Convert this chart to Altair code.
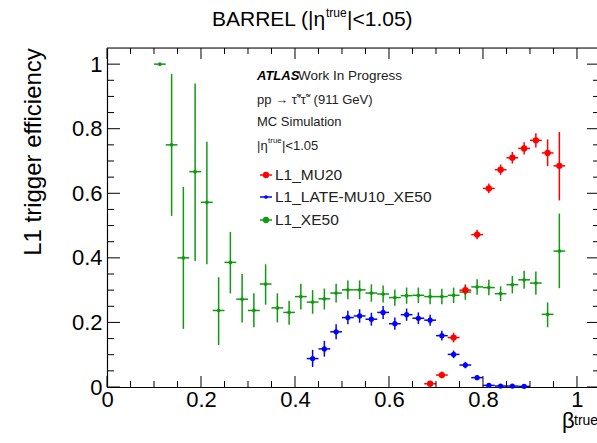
import altair as alt
import pandas as pd

FONT = "Liberation Sans"

# ---------------- data ----------------
series_names = ["L1_MU20", "L1_LATE-MU10_XE50", "L1_XE50"]
series_colors = ["#ff0000", "#0000ff", "#119911"]

green_x = [0.1125, 0.1375, 0.1625, 0.1875, 0.2125, 0.2375, 0.2625, 0.2875, 0.3125,
           0.3375, 0.3625, 0.3875, 0.4125, 0.4375, 0.4625, 0.4875, 0.5125, 0.5375,
           0.5625, 0.5875, 0.6125, 0.6375, 0.6625, 0.6875, 0.7125, 0.7375, 0.7625,
           0.7875, 0.8125, 0.8375, 0.8625, 0.8875, 0.9125, 0.9375, 0.9625]
green_y = [1.0, 0.75, 0.40, 0.667, 0.572, 0.237, 0.386, 0.272, 0.237, 0.319, 0.245,
           0.231, 0.28, 0.263, 0.273, 0.291, 0.301, 0.301, 0.291, 0.288, 0.277, 0.283,
           0.284, 0.28, 0.28, 0.284, 0.294, 0.31, 0.308, 0.289, 0.317, 0.332, 0.322,
           0.225, 0.421]
green_lo = [1.0, 0.53, 0.18, 0.39, 0.38, 0.13, 0.29, 0.20, 0.185, 0.255, 0.20, 0.193,
            0.24, 0.227, 0.24, 0.262, 0.272, 0.272, 0.264, 0.262, 0.252, 0.258, 0.26,
            0.256, 0.256, 0.26, 0.27, 0.286, 0.284, 0.266, 0.29, 0.304, 0.286, 0.185,
            0.306]
green_hi = [1.0, 0.97, 0.62, 0.94, 0.76, 0.34, 0.48, 0.35, 0.29, 0.38, 0.29, 0.267,
            0.32, 0.30, 0.305, 0.32, 0.33, 0.33, 0.318, 0.314, 0.302, 0.308, 0.308,
            0.304, 0.304, 0.308, 0.318, 0.334, 0.332, 0.312, 0.344, 0.36, 0.358, 0.262,
            0.537]

blue_x = [0.4375, 0.4625, 0.4875, 0.5125, 0.5375, 0.5625, 0.5875, 0.6125, 0.6375,
          0.6625, 0.6875, 0.7125, 0.7375, 0.7625, 0.7875, 0.8125, 0.8375, 0.8625, 0.8875]
blue_y = [0.088, 0.118, 0.171, 0.215, 0.22, 0.21, 0.231, 0.196, 0.224, 0.213, 0.207,
          0.159, 0.101, 0.068, 0.029, 0.005, 0.003, 0.003, 0.002]
blue_lo = [0.062, 0.094, 0.148, 0.194, 0.199, 0.19, 0.211, 0.177, 0.205, 0.195, 0.19,
           0.144, 0.089, 0.058, 0.022, 0.002, 0.001, 0.001, 0.0]
blue_hi = [0.115, 0.143, 0.194, 0.236, 0.241, 0.23, 0.251, 0.215, 0.243, 0.231, 0.224,
           0.174, 0.113, 0.078, 0.036, 0.009, 0.006, 0.006, 0.005]

red_x = [0.6875, 0.7125, 0.7375, 0.7625, 0.7875, 0.8125, 0.8375, 0.8625, 0.8875,
         0.9125, 0.9375, 0.9625]
red_y = [0.010, 0.037, 0.153, 0.30, 0.472, 0.615, 0.673, 0.71, 0.739, 0.764, 0.725, 0.685]
red_lo = [0.004, 0.027, 0.138, 0.285, 0.458, 0.600, 0.657, 0.692, 0.720, 0.742, 0.684, 0.578]
red_hi = [0.018, 0.048, 0.168, 0.315, 0.487, 0.630, 0.689, 0.728, 0.758, 0.786, 0.767, 0.79]

half_bin = 0.0125

x_major = [0.0, 0.2, 0.4, 0.6, 0.8, 1.0]
x_minor = [0.05, 0.1, 0.15, 0.25, 0.3, 0.35, 0.45, 0.5, 0.55, 0.65, 0.7, 0.75,
           0.85, 0.9, 0.95]
y_major = [0.0, 0.2, 0.4, 0.6, 0.8, 1.0]
y_minor = [0.05, 0.1, 0.15, 0.25, 0.3, 0.35, 0.45, 0.5, 0.55, 0.65, 0.7, 0.75,
           0.85, 0.9, 0.95]

# ---------------- table ----------------
def frame(name, xs, ys, lo, hi):
    return pd.DataFrame({"series": name, "x": xs, "y": ys, "lo": lo, "hi": hi,
                         "xlo": [v - half_bin for v in xs], "xhi": [v + half_bin for v in xs]})

df = pd.concat([
    frame("L1_XE50", green_x, green_y, green_lo, green_hi),
    frame("L1_LATE-MU10_XE50", blue_x, blue_y, blue_lo, blue_hi),
    frame("L1_MU20", red_x, red_y, red_lo, red_hi),
], ignore_index=True)

W, H = 490, 339
xscale = alt.Scale(domain=[0, 1.0426], nice=False, zero=False)
yscale = alt.Scale(domain=[0, 1.05], nice=False, zero=False)
color = alt.Color("series:N", scale=alt.Scale(domain=series_names, range=series_colors), legend=None)

xaxis = alt.Axis(values=x_major, format=".1~f", ticks=False, grid=False, domain=True,
                 domainColor="black", domainWidth=1.2, labelFontSize=22, labelFont=FONT,
                 labelColor="black", labelPadding=2, labelFlush=False, labelOverlap=False,
                 title=None)
yaxis = alt.Axis(values=y_major, format=".1~f", ticks=False, grid=False, domain=True,
                 domainColor="black", domainWidth=1.2, labelFontSize=22, labelFont=FONT,
                 labelColor="black", labelPadding=5, labelOverlap=False, title=None)

base = alt.Chart(df)
vbars = base.mark_rule(strokeWidth=1.5).encode(
    x=alt.X("x:Q", scale=xscale, axis=xaxis),
    y=alt.Y("lo:Q", scale=yscale, axis=yaxis),
    y2="hi:Q", color=color)
hbars = base.mark_rule(strokeWidth=1.5).encode(
    x=alt.X("xlo:Q", scale=xscale, axis=xaxis), x2="xhi:Q",
    y=alt.Y("y:Q", scale=yscale, axis=yaxis), color=color)
pts = base.mark_point(filled=True, opacity=1, shape="circle").encode(
    x=alt.X("x:Q", scale=xscale, axis=xaxis),
    y=alt.Y("y:Q", scale=yscale, axis=yaxis),
    color=color,
    size=alt.Size("series:N", scale=alt.Scale(domain=series_names, range=[40, 14, 40]), legend=None))

# ---------------- inward ticks ----------------
def xticks(vals, length):
    d = alt.Chart(pd.DataFrame({"v": vals}))
    enc_x = alt.X("v:Q", scale=xscale, axis=xaxis)
    bottom = d.mark_rule(color="black", strokeWidth=1).encode(x=enc_x, y=alt.value(H), y2=alt.value(H - length))
    top = d.mark_rule(color="black", strokeWidth=1).encode(x=enc_x, y=alt.value(0), y2=alt.value(length))
    return [bottom, top]

def yticks(vals, length):
    d = alt.Chart(pd.DataFrame({"v": vals}))
    enc_y = alt.Y("v:Q", scale=yscale, axis=yaxis)
    left = d.mark_rule(color="black", strokeWidth=1).encode(y=enc_y, x=alt.value(0), x2=alt.value(length))
    right = d.mark_rule(color="black", strokeWidth=1).encode(y=enc_y, x=alt.value(493 - length), x2=alt.value(W))
    return [left, right]

one = pd.DataFrame({"a": [0]})
top_border = alt.Chart(one).mark_rule(color="black", strokeWidth=1.2).encode(
    x=alt.value(0), x2=alt.value(W), y=alt.value(0))

def txt(s, x, y, size, align="left", baseline="alphabetic", **kw):
    return alt.Chart(one).mark_text(text=s, fontSize=size, font=FONT, align=align,
                                    baseline=baseline, color=kw.pop("color", "black"), **kw).encode(
        x=alt.value(x), y=alt.value(y))

annotations = [
    # title
    txt("BARREL (|η", 105, -22, 21),
    txt("true", 219, -31, 12),
    txt("|<1.05)", 240, -22, 21),
    # y title
    txt("L1 trigger efficiency", -73, 104, 24, align="center", baseline="middle", angle=270),
    # x title
    txt("β", 455, 380, 22),
    txt("true", 467, 377, 14),
    # ATLAS label block
    txt("ATLAS", 150, 32, 13, fontWeight="bold", fontStyle="italic"),
    txt("Work In Progress", 191, 32, 13.5, color="#222222"),
    txt("pp → τ̃⁺τ̃⁻ (911 GeV)", 150, 56, 13, color="#222222"),
    txt("MC Simulation", 150, 78, 13, color="#222222"),
    txt("|η", 150, 102, 13, color="#222222"),
    txt("true", 161, 95, 8, color="#222222"),
    txt("|<1.05", 175, 102, 13, color="#222222"),
]

legend_rows = [(series_names[0], series_colors[0], 127, 40),
               (series_names[1], series_colors[1], 149, 14),
               (series_names[2], series_colors[2], 172, 40)]
legend_layers = []
for name, col, yy, sz in legend_rows:
    legend_layers.append(alt.Chart(one).mark_rule(color=col, strokeWidth=1.5).encode(
        x=alt.value(153), x2=alt.value(165), y=alt.value(yy)))
    legend_layers.append(alt.Chart(one).mark_point(filled=True, opacity=1, color=col, size=sz).encode(
        x=alt.value(159), y=alt.value(yy)))
    legend_layers.append(txt(name, 168, yy, 15.5, baseline="middle", color="#222222"))

layers = ([vbars, hbars, pts] + xticks(x_major, 11) + xticks(x_minor, 6)
          + yticks(y_major, 13) + yticks(y_minor, 7) + [top_border] + annotations + legend_layers)

chart = alt.layer(*layers).properties(
    width=W, height=H,
    autosize=alt.AutoSizeParams(type="none"),
    padding={"left": 107, "top": 48, "right": 0, "bottom": 56},
).configure_view(stroke=None).configure(background="white")

chart.save("out.html", embed_options={"renderer": "svg", "actions": False})
